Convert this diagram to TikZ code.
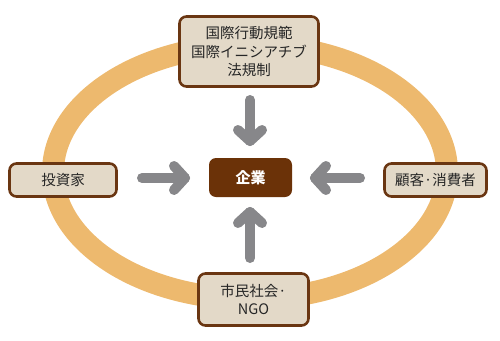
\documentclass[tikz,border=0pt]{standalone}
\usepackage{fontspec}
\setmainfont{Noto Sans CJK JP}
\definecolor{ring}{HTML}{EDB96E}
\definecolor{boxfill}{HTML}{E3D9C8}
\definecolor{boxline}{HTML}{6A3612}
\definecolor{corp}{HTML}{6B3208}
\definecolor{arrowgray}{HTML}{87878A}
\begin{document}
\begin{tikzpicture}[x=1pt,y=-1pt,
  actor/.style={draw=boxline, line width=2.6pt, fill=boxfill, rounded corners=7pt,
    align=center, inner sep=0pt, text=black!85,
    font=\fontsize{14.5}{18.5}\selectfont},
  corpbox/.style={fill=corp, rounded corners=7pt, inner sep=0pt, text=white,
    font=\fontsize{15}{18}\selectfont\bfseries},
  grayarrow/.style={draw=arrowgray, line width=10pt, line cap=round, line join=round}]
\useasboundingbox (0,0) rectangle (500,340);
\draw[ring, line width=22pt] (250,172) ellipse [x radius=197pt, y radius=127pt];

\node[actor, minimum width=139pt, minimum height=70pt] (top) at (249,51.5)
  {国際行動規範\\国際イニシアチブ\\法規制};
\node[actor, minimum width=107pt, minimum height=33pt] (inv) at (63,180) {投資家};
\node[actor, minimum width=102pt, minimum height=33pt] (cust) at (435.5,180) {顧客·消費者};
\node[actor, minimum width=110pt, minimum height=52pt] (civ) at (253.5,299.5)
  {市民社会·\\NGO};
\node[corpbox, minimum width=83pt, minimum height=39pt] (corp) at (250.5,177.5) {企業};

% arrows
\coordinate (tA) at (250,100); \coordinate (tB) at (250,141);
\coordinate (bA) at (250,258); \coordinate (bB) at (250,212);
\coordinate (lA) at (142,178); \coordinate (lB) at (185,178);
\coordinate (rA) at (360,178); \coordinate (rB) at (315,178);
\draw[grayarrow] (tA) -- (tB);
\draw[grayarrow] ([shift={(-12,-11)}]tB) -- (tB) -- ([shift={(12,-11)}]tB);
\draw[grayarrow] (bA) -- (bB);
\draw[grayarrow] ([shift={(-12,11)}]bB) -- (bB) -- ([shift={(12,11)}]bB);
\draw[grayarrow] (lA) -- (lB);
\draw[grayarrow] ([shift={(-11,-12)}]lB) -- (lB) -- ([shift={(-11,12)}]lB);
\draw[grayarrow] (rA) -- (rB);
\draw[grayarrow] ([shift={(11,-12)}]rB) -- (rB) -- ([shift={(11,12)}]rB);
\end{tikzpicture}
\end{document}
